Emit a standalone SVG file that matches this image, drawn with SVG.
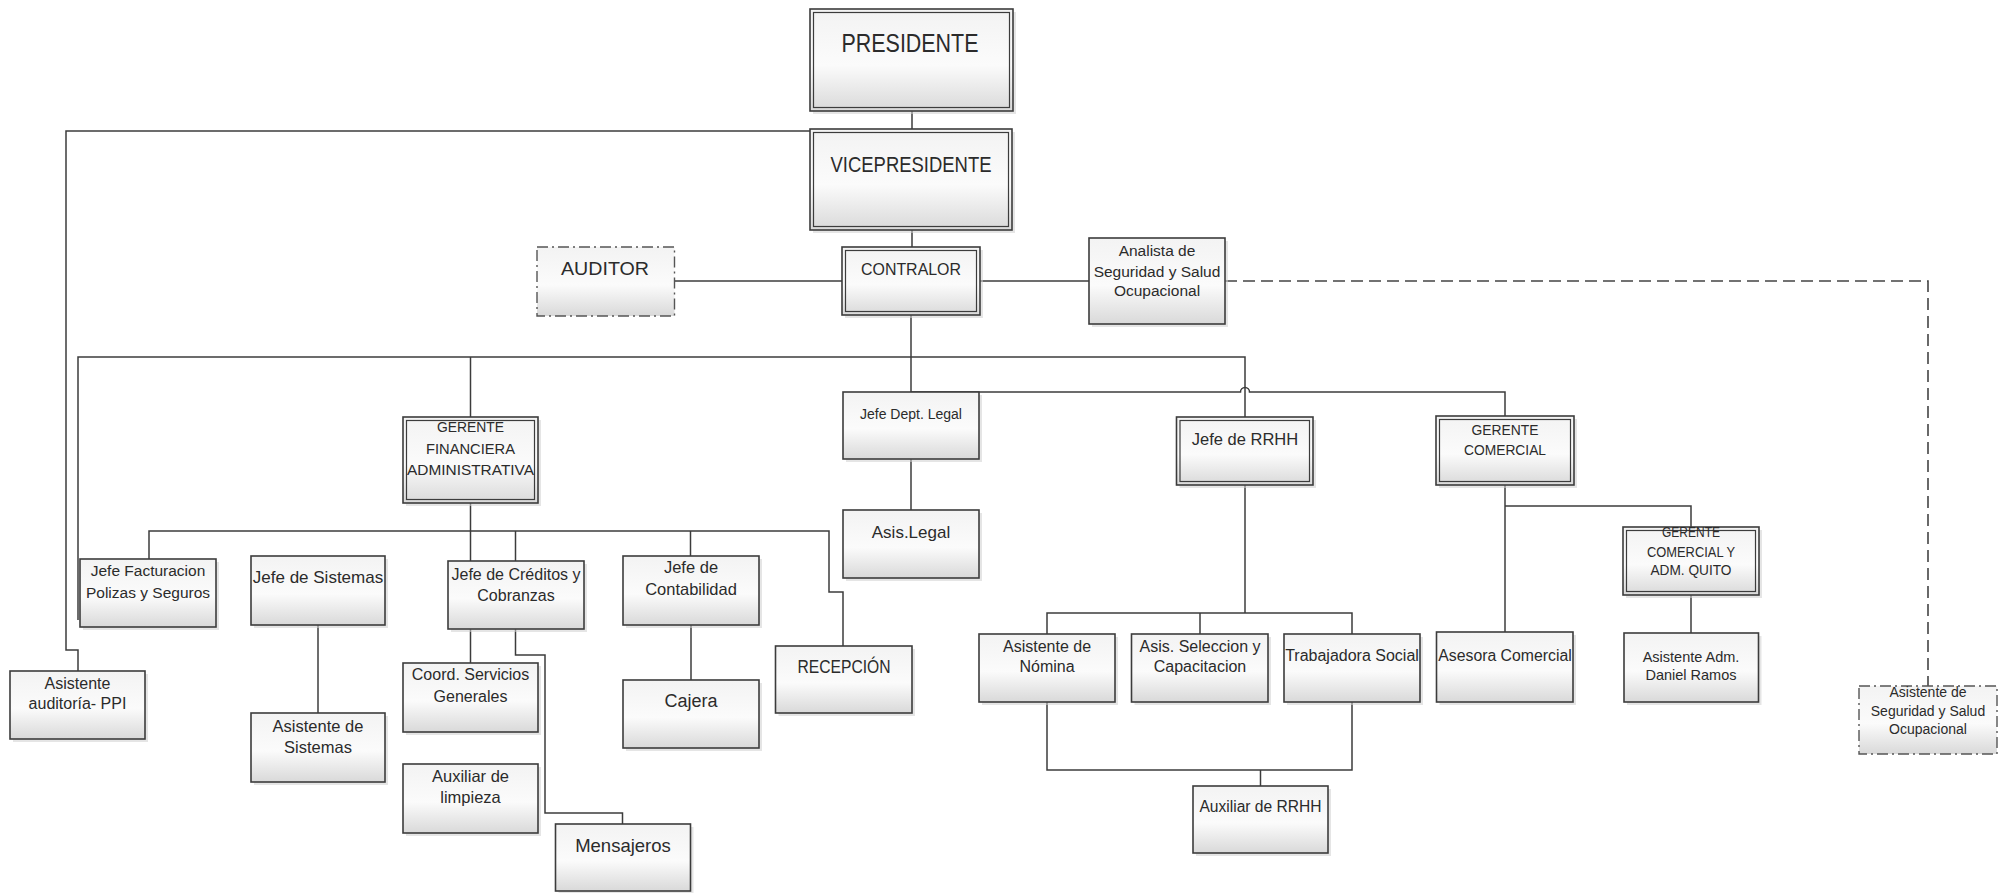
<svg xmlns="http://www.w3.org/2000/svg" width="2004" height="894" viewBox="0 0 2004 894">
  <defs>
    <linearGradient id="boxFill" x1="0" y1="0" x2="0" y2="1">
      <stop offset="0" stop-color="#f3f3f3"/>
      <stop offset="0.55" stop-color="#fbfbfb"/>
      <stop offset="1" stop-color="#d9d9d9"/>
    </linearGradient>
  </defs>
  <style>
    .box { fill: url(#boxFill); stroke: #3c3c3c; stroke-width: 1.6; }
    .inner { fill: none; stroke: #3c3c3c; stroke-width: 1.2; }
    .dashbox { fill: url(#boxFill); stroke: #555; stroke-width: 1.4; stroke-dasharray: 11 4 2 4; }
    .shadow { fill: #cfcfcf; opacity: 0.55; }
    .conn { fill: none; stroke: #3c3c3c; stroke-width: 1.5; }
    .dashed { fill: none; stroke: #444; stroke-width: 1.6; stroke-dasharray: 12 6; }
    text { font-family: "Liberation Sans", Arial, sans-serif; fill: #2b2b2b; text-anchor: middle; }
  </style>
  <rect width="2004" height="894" fill="#ffffff"/>

  <!-- connectors -->
  <g id="connectors">
    <path class="conn" d="M912,111 V129"/>
    <path class="conn" d="M810,131 H66 V650 H78 V671"/>
    <path class="conn" d="M912,230 V247"/>
    <path class="conn" d="M674.5,281 H842"/>
    <path class="conn" d="M980,281 H1089"/>
    <path class="dashed" d="M1225,281 H1928 V687"/>
    <path class="conn" d="M911,315 V392"/>
    <path class="conn" d="M78,620 V357 H1245 V417"/>
    <path class="conn" d="M470.5,357 V417"/>
    <path class="conn" d="M911,392 H1240.5 A4.5,4.5 0 0 1 1249.5,392 H1505 V416"/>
    <path class="conn" d="M470.5,503 V561"/>
    <path class="conn" d="M149,559 V531 H829 V592 H843 V646"/>
    <path class="conn" d="M515.5,531 V561"/>
    <path class="conn" d="M690.5,531 V556"/>
    <path class="conn" d="M470.5,629 V663"/>
    <path class="conn" d="M515.5,629 V655 H545 V813 H622.5 V824"/>
    <path class="conn" d="M318,625 V713"/>
    <path class="conn" d="M691,625 V680"/>
    <path class="conn" d="M911,459 V510"/>
    <path class="conn" d="M1245,485 V613"/>
    <path class="conn" d="M1047,634 V613 H1352 V634"/>
    <path class="conn" d="M1200,613 V634"/>
    <path class="conn" d="M1047,702 V770 H1352 V702"/>
    <path class="conn" d="M1260.5,770 V786"/>
    <path class="conn" d="M1505,485 V632"/>
    <path class="conn" d="M1505,506 H1691 V527"/>
    <path class="conn" d="M1691,595 V633"/>
  </g>

  <g id="presidente">
    <rect class="shadow" x="813" y="12" width="203" height="102"/>
    <rect class="box" x="810" y="9" width="203" height="102"/>
    <rect class="inner" x="813.5" y="12.5" width="196" height="95"/>
    <text x="910" y="52" font-size="26" textLength="137" lengthAdjust="spacingAndGlyphs">PRESIDENTE</text>
  </g>

  <g id="vicepresidente">
    <rect class="shadow" x="813" y="132" width="202" height="101"/>
    <rect class="box" x="810" y="129" width="202" height="101"/>
    <rect class="inner" x="813.5" y="132.5" width="195" height="94"/>
    <text x="911" y="172" font-size="22" textLength="161" lengthAdjust="spacingAndGlyphs">VICEPRESIDENTE</text>
  </g>

  <g id="auditor">
    <rect class="dashbox" x="537" y="247" width="137.5" height="69"/>
    <text x="605" y="275" font-size="19" textLength="88" lengthAdjust="spacingAndGlyphs">AUDITOR</text>
  </g>

  <g id="contralor">
    <rect class="shadow" x="845" y="250" width="138" height="68"/>
    <rect class="box" x="842" y="247" width="138" height="68"/>
    <rect class="inner" x="845.5" y="250.5" width="131" height="61"/>
    <text x="911" y="275" font-size="16.5" textLength="100" lengthAdjust="spacingAndGlyphs">CONTRALOR</text>
  </g>

  <g id="analista-seguridad">
    <rect class="shadow" x="1092" y="241" width="136" height="86"/>
    <rect class="box" x="1089" y="238" width="136" height="86"/>
    <text x="1157" y="256" font-size="15.5">Analista de</text>
    <text x="1157" y="277" font-size="15.5">Seguridad y Salud</text>
    <text x="1157" y="296" font-size="15.5">Ocupacional</text>
  </g>

  <g id="asistente-seguridad">
    <rect class="dashbox" x="1859" y="686" width="138" height="68"/>
    <text x="1928" y="697" font-size="14">Asistente de</text>
    <text x="1928" y="716" font-size="14">Seguridad y Salud</text>
    <text x="1928" y="734" font-size="14">Ocupacional</text>
  </g>

  <g id="gerente-financiera">
    <rect class="shadow" x="406" y="420" width="135" height="86"/>
    <rect class="box" x="403" y="417" width="135" height="86"/>
    <rect class="inner" x="406.5" y="420.5" width="128" height="79"/>
    <text x="470.5" y="432" font-size="15.5" textLength="67" lengthAdjust="spacingAndGlyphs">GERENTE</text>
    <text x="470.5" y="454" font-size="15.5" textLength="89" lengthAdjust="spacingAndGlyphs">FINANCIERA</text>
    <text x="470.5" y="475" font-size="15.5" textLength="127" lengthAdjust="spacingAndGlyphs">ADMINISTRATIVA</text>
  </g>

  <g id="jefe-legal">
    <rect class="shadow" x="846" y="395" width="136" height="67"/>
    <rect class="box" x="843" y="392" width="136" height="67"/>
    <text x="911" y="419" font-size="14">Jefe Dept. Legal</text>
  </g>

  <g id="asis-legal">
    <rect class="shadow" x="846" y="513" width="136" height="68"/>
    <rect class="box" x="843" y="510" width="136" height="68"/>
    <text x="911" y="538" font-size="17">Asis.Legal</text>
  </g>

  <g id="jefe-rrhh">
    <rect class="shadow" x="1179.5" y="420" width="136.5" height="68"/>
    <rect class="box" x="1176.5" y="417" width="136.5" height="68"/>
    <rect class="inner" x="1180" y="420.5" width="129.5" height="61"/>
    <text x="1245" y="445" font-size="16.5">Jefe de RRHH</text>
  </g>

  <g id="gerente-comercial">
    <rect class="shadow" x="1439" y="419" width="138" height="69"/>
    <rect class="box" x="1436" y="416" width="138" height="69"/>
    <rect class="inner" x="1439.5" y="419.5" width="131" height="62"/>
    <text x="1505" y="435" font-size="15.5" textLength="67" lengthAdjust="spacingAndGlyphs">GERENTE</text>
    <text x="1505" y="455" font-size="15.5" textLength="82" lengthAdjust="spacingAndGlyphs">COMERCIAL</text>
  </g>

  <g id="gerente-quito">
    <rect class="shadow" x="1626" y="530" width="136" height="68"/>
    <rect class="box" x="1623" y="527" width="136" height="68"/>
    <rect class="inner" x="1626.5" y="530.5" width="129" height="61"/>
    <text x="1691" y="537" font-size="15" textLength="58" lengthAdjust="spacingAndGlyphs">GERENTE</text>
    <text x="1691" y="557" font-size="15" textLength="88" lengthAdjust="spacingAndGlyphs">COMERCIAL Y</text>
    <text x="1691" y="575" font-size="15" textLength="81" lengthAdjust="spacingAndGlyphs">ADM. QUITO</text>
  </g>

  <g id="jefe-facturacion">
    <rect class="shadow" x="83" y="562" width="136" height="68"/>
    <rect class="box" x="80" y="559" width="136" height="68"/>
    <text x="148" y="576" font-size="15.5">Jefe Facturacion</text>
    <text x="148" y="598" font-size="15.5">Polizas y Seguros</text>
  </g>

  <g id="jefe-sistemas">
    <rect class="shadow" x="254" y="559" width="134" height="69"/>
    <rect class="box" x="251" y="556" width="134" height="69"/>
    <text x="318" y="583" font-size="17">Jefe de Sistemas</text>
  </g>

  <g id="jefe-creditos">
    <rect class="shadow" x="451" y="564" width="136" height="68"/>
    <rect class="box" x="448" y="561" width="136" height="68"/>
    <text x="516" y="580" font-size="16">Jefe de Créditos y</text>
    <text x="516" y="601" font-size="16">Cobranzas</text>
  </g>

  <g id="jefe-contabilidad">
    <rect class="shadow" x="626" y="559" width="136" height="69"/>
    <rect class="box" x="623" y="556" width="136" height="69"/>
    <text x="691" y="573" font-size="16.5">Jefe de</text>
    <text x="691" y="595" font-size="16.5">Contabilidad</text>
  </g>

  <g id="asistente-auditoria">
    <rect class="shadow" x="13" y="674" width="135" height="68"/>
    <rect class="box" x="10" y="671" width="135" height="68"/>
    <text x="77.5" y="689" font-size="16">Asistente</text>
    <text x="77.5" y="709" font-size="16">auditoría- PPI</text>
  </g>

  <g id="asistente-sistemas">
    <rect class="shadow" x="254" y="716" width="134" height="69"/>
    <rect class="box" x="251" y="713" width="134" height="69"/>
    <text x="318" y="732" font-size="16.5">Asistente de</text>
    <text x="318" y="753" font-size="16.5">Sistemas</text>
  </g>

  <g id="coord-servicios">
    <rect class="shadow" x="406" y="666" width="135" height="69"/>
    <rect class="box" x="403" y="663" width="135" height="69"/>
    <text x="470.5" y="680" font-size="16">Coord. Servicios</text>
    <text x="470.5" y="702" font-size="16">Generales</text>
  </g>

  <g id="auxiliar-limpieza">
    <rect class="shadow" x="406" y="767" width="135" height="69"/>
    <rect class="box" x="403" y="764" width="135" height="69"/>
    <text x="470.5" y="782" font-size="16.5">Auxiliar de</text>
    <text x="470.5" y="803" font-size="16.5">limpieza</text>
  </g>

  <g id="mensajeros">
    <rect class="shadow" x="558.5" y="827" width="135" height="66"/>
    <rect class="box" x="555.5" y="824" width="135" height="67"/>
    <text x="623" y="852" font-size="18.5">Mensajeros</text>
  </g>

  <g id="cajera">
    <rect class="shadow" x="626" y="683" width="136" height="68"/>
    <rect class="box" x="623" y="680" width="136" height="68"/>
    <text x="691" y="707" font-size="18">Cajera</text>
  </g>

  <g id="recepcion">
    <rect class="shadow" x="778.5" y="649" width="136.5" height="67"/>
    <rect class="box" x="775.5" y="646" width="136.5" height="67"/>
    <text x="844" y="673" font-size="18" textLength="93" lengthAdjust="spacingAndGlyphs">RECEPCIÓN</text>
  </g>

  <g id="asistente-nomina">
    <rect class="shadow" x="982" y="637" width="136" height="68"/>
    <rect class="box" x="979" y="634" width="136" height="68"/>
    <text x="1047" y="652" font-size="16">Asistente de</text>
    <text x="1047" y="672" font-size="16">Nómina</text>
  </g>

  <g id="asis-seleccion">
    <rect class="shadow" x="1134.5" y="637" width="136.5" height="68"/>
    <rect class="box" x="1131.5" y="634" width="136.5" height="68"/>
    <text x="1200" y="652" font-size="16">Asis. Seleccion y</text>
    <text x="1200" y="672" font-size="16">Capacitacion</text>
  </g>

  <g id="trabajadora-social">
    <rect class="shadow" x="1287" y="637" width="136" height="68"/>
    <rect class="box" x="1284" y="634" width="136" height="68"/>
    <text x="1352" y="661" font-size="16">Trabajadora Social</text>
  </g>

  <g id="asesora-comercial">
    <rect class="shadow" x="1439.5" y="635" width="136.5" height="70"/>
    <rect class="box" x="1436.5" y="632" width="136.5" height="70"/>
    <text x="1505" y="661" font-size="15.8">Asesora Comercial</text>
  </g>

  <g id="asistente-adm">
    <rect class="shadow" x="1627" y="636" width="134.5" height="69"/>
    <rect class="box" x="1624" y="633" width="134.5" height="69"/>
    <text x="1691" y="662" font-size="14.5">Asistente Adm.</text>
    <text x="1691" y="680" font-size="14.5">Daniel Ramos</text>
  </g>

  <g id="auxiliar-rrhh">
    <rect class="shadow" x="1196" y="789" width="135" height="67"/>
    <rect class="box" x="1193" y="786" width="135" height="67"/>
    <text x="1260.5" y="812" font-size="15.6">Auxiliar de RRHH</text>
  </g>
</svg>
